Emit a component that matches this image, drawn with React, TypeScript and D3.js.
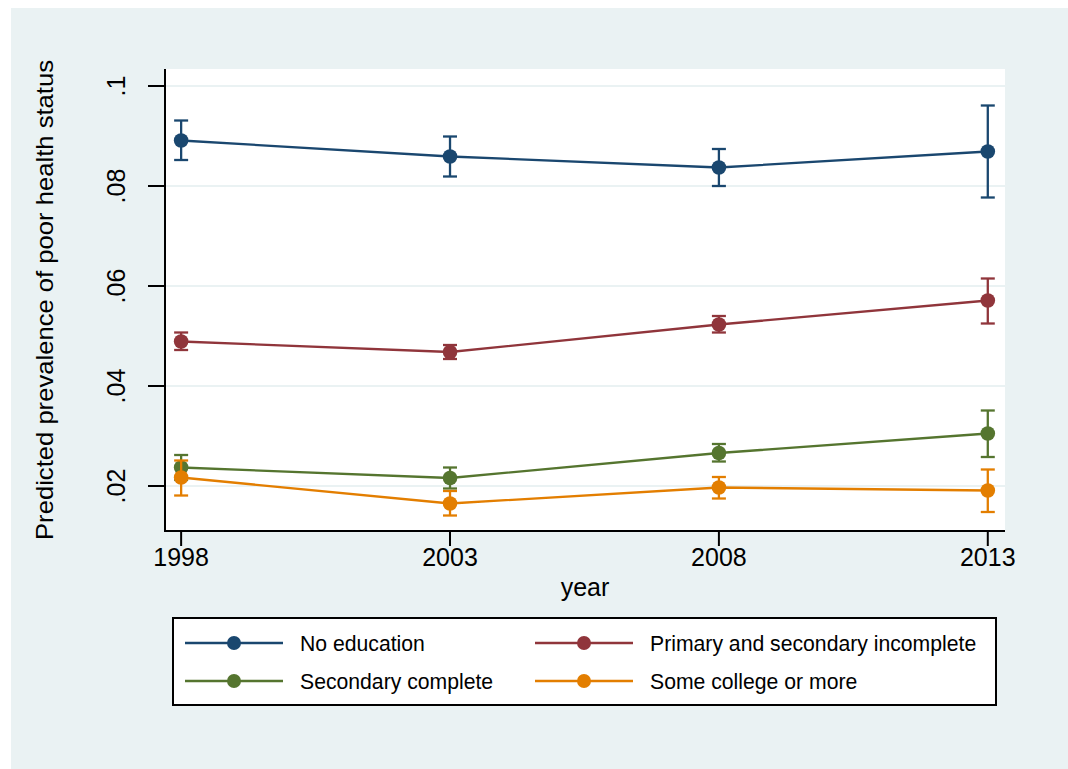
import React from "react";
import * as d3 from "d3";

const years = [1998, 2003, 2008, 2013];
const seriesNames = ["No education", "Primary and secondary incomplete", "Secondary complete", "Some college or more"];
const seriesColors = ["#1a476f", "#90353b", "#55752f", "#e37e00"];
const noEduc = [0.0891, 0.0859, 0.0837, 0.0869];
const noEducLo = [0.0852, 0.0819, 0.0800, 0.0777];
const noEducHi = [0.0931, 0.0899, 0.0874, 0.0961];
const primary = [0.0489, 0.0468, 0.0523, 0.0571];
const primaryLo = [0.0472, 0.0454, 0.0507, 0.0525];
const primaryHi = [0.0507, 0.0482, 0.0540, 0.0615];
const secondary = [0.0237, 0.0216, 0.0266, 0.0305];
const secondaryLo = [0.0212, 0.0195, 0.0249, 0.0258];
const secondaryHi = [0.0262, 0.0237, 0.0284, 0.0351];
const college = [0.0217, 0.0165, 0.0197, 0.0191];
const collegeLo = [0.0181, 0.0141, 0.0175, 0.0148];
const collegeHi = [0.0251, 0.0190, 0.0218, 0.0233];
const yTicks = [0.02, 0.04, 0.06, 0.08, 0.1];
const yTickLabels = [".02", ".04", ".06", ".08", ".1"];

const series = [
  { v: noEduc, lo: noEducLo, hi: noEducHi },
  { v: primary, lo: primaryLo, hi: primaryHi },
  { v: secondary, lo: secondaryLo, hi: secondaryHi },
  { v: college, lo: collegeLo, hi: collegeHi },
];

export default function App() {
  const W = 1068, H = 769;
  const left = 165, right = 1005, top = 69, bottom = 531;
  const x = d3.scaleLinear().domain([1997.7, 2013.32]).range([left, right]);
  const y = d3.scaleLinear().domain([0.1, 0.02]).range([86, 486]);
  const y0 = y.invert(bottom);
  const y1 = y.invert(top);
  const ys = d3.scaleLinear().domain([y0, y1]).range([bottom, top]);
  const line = d3.line<number>().x((_, i) => x(years[i])).y((d) => ys(d));
  const font = "'Liberation Sans', Arial, Helvetica, sans-serif";
  const lw = 2.3;
  const legendItems = [
    { i: 0, lx: 185, tx: 300, ry: 643 },
    { i: 1, lx: 535, tx: 650, ry: 643 },
    { i: 2, lx: 185, tx: 300, ry: 681 },
    { i: 3, lx: 535, tx: 650, ry: 681 },
  ];
  return (
    <svg width={W} height={H} style={{ position: "absolute", left: 0, top: 0 }} fontFamily={font}>
      <rect x={0} y={0} width={W} height={H} fill="#ffffff" />
      <rect x={11} y={8} width={W - 11} height={H - 8} fill="#eaf2f3" />
      <rect x={left} y={top} width={right - left} height={bottom - top} fill="#ffffff" />
      {yTicks.map((t) => (
        <line key={"g" + t} x1={left} x2={right} y1={ys(t)} y2={ys(t)} stroke="#eaf2f3" strokeWidth={2} />
      ))}
      {series.map((s, si) => (
        <g key={"s" + si} stroke={seriesColors[si]} fill={seriesColors[si]}>
          <path d={line(s.v) || ""} fill="none" strokeWidth={lw} />
          {years.map((yr, i) => (
            <g key={yr}>
              <line x1={x(yr)} x2={x(yr)} y1={ys(s.lo[i])} y2={ys(s.hi[i])} strokeWidth={lw} />
              <line x1={x(yr) - 7} x2={x(yr) + 7} y1={ys(s.lo[i])} y2={ys(s.lo[i])} strokeWidth={lw} />
              <line x1={x(yr) - 7} x2={x(yr) + 7} y1={ys(s.hi[i])} y2={ys(s.hi[i])} strokeWidth={lw} />
              <circle cx={x(yr)} cy={ys(s.v[i])} r={7.3} stroke="none" />
            </g>
          ))}
        </g>
      ))}
      <line x1={left} x2={left} y1={top} y2={bottom + 1} stroke="#000" strokeWidth={2} />
      <line x1={left - 1} x2={right} y1={bottom} y2={bottom} stroke="#000" strokeWidth={2} />
      {yTicks.map((t, i) => (
        <g key={"yt" + t}>
          <line x1={left - 17} x2={left} y1={ys(t)} y2={ys(t)} stroke="#000" strokeWidth={2} />
          <text
            transform={`translate(${125},${ys(t)}) rotate(-90)`}
            textAnchor="middle"
            fontSize={25}
            fill="#000"
          >
            {yTickLabels[i]}
          </text>
        </g>
      ))}
      {years.map((yr) => (
        <g key={"xt" + yr}>
          <line x1={x(yr)} x2={x(yr)} y1={bottom} y2={bottom + 15} stroke="#000" strokeWidth={2} />
          <text x={x(yr)} y={566} textAnchor="middle" fontSize={25} fill="#000">
            {yr}
          </text>
        </g>
      ))}
      <text x={585} y={596} textAnchor="middle" fontSize={25} fill="#000">year</text>
      <text transform={`translate(53,300) rotate(-90)`} textAnchor="middle" fontSize={24} textLength={480} lengthAdjust="spacingAndGlyphs" fill="#000">
        Predicted prevalence of poor health status
      </text>
      <rect x={173} y={618} width={823} height={87} fill="#ffffff" stroke="#000" strokeWidth={2} />
      {legendItems.map((it) => (
        <g key={"l" + it.i}>
          <line x1={it.lx} x2={it.lx + 98} y1={it.ry} y2={it.ry} stroke={seriesColors[it.i]} strokeWidth={lw} />
          <circle cx={it.lx + 49} cy={it.ry} r={7} fill={seriesColors[it.i]} />
          <text x={it.tx} y={it.ry + 7.5} fontSize={21.2} fill="#000">{seriesNames[it.i]}</text>
        </g>
      ))}
    </svg>
  );
}
